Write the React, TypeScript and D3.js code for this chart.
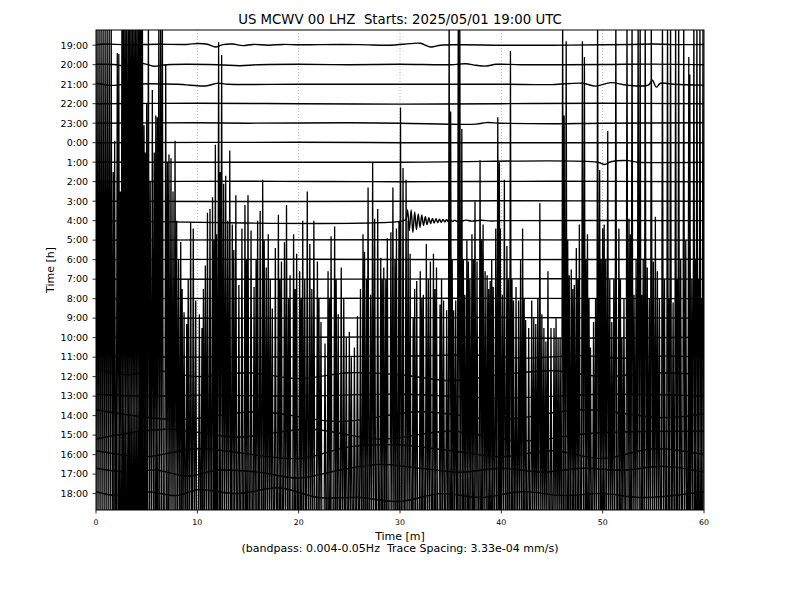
import React from "react";
import * as d3 from "d3";

const title = "US MCWV 00 LHZ  Starts: 2025/05/01 19:00 UTC";
const xLabel = "Time [m]";
const xSubLabel = "(bandpass: 0.004-0.05Hz  Trace Spacing: 3.33e-04 mm/s)";
const yLabel = "Time [h]";

const hourLabels = [
  "19:00", "20:00", "21:00", "22:00", "23:00", "0:00", "1:00", "2:00",
  "3:00", "4:00", "5:00", "6:00", "7:00", "8:00", "9:00", "10:00",
  "11:00", "12:00", "13:00", "14:00", "15:00", "16:00", "17:00", "18:00",
];
const minuteTicks = [0, 10, 20, 30, 40, 50, 60];
const gridMinutes = [10, 20, 30, 40, 50];

// Per-hour trace keyframes: [minute, offset in trace-spacing units, + = up]
const tr19: [number, number][] = [[0,0.03],[1,0.06],[3,0.02],[6,0.05],[9,0.04],[10,0.09],[11,0.05],[11.8,-0.09],[12.5,0.03],[13.5,0.06],[14.5,-0.02],[15.5,0.04],[17,0],[18.5,0.04],[20,0.02],[22,0.03],[26,0.03],[29,0],[31,0.08],[32,0.1],[33,-0.09],[34,0],[36,0.02],[40,0],[45,0],[50,0.02],[53,0.04],[55,0.06],[57,0.03],[60,0.04]];
const tr20: [number, number][] = [[0,0.02],[2,0],[2.8,-0.07],[4,0.1],[5,0.02],[5.7,-0.08],[7,0],[12,0],[14.2,-0.05],[16,0],[20,0.02],[25,0],[30,0.02],[35,0],[36.5,0.05],[37.5,-0.03],[38.5,-0.07],[39.5,0.02],[42,0],[50,0.01],[55,0.03],[60,0]];
const tr21: [number, number][] = [[0,0.05],[1.5,-0.06],[3,0],[8,0],[10.8,-0.09],[12,0.05],[13,0],[20,0],[30,0],[40,0],[45,-0.02],[48,0.05],[49.3,-0.1],[50.8,0.08],[52.4,-0.05],[54.5,-0.05],[54.9,0.2],[55.3,-0.15],[55.7,0.05],[57,0],[60,-0.05]];
const tr22: [number, number][] = [[0,0],[10,0.02],[20,0],[30,-0.02],[40,0],[50,0.02],[60,0]];
const tr23: [number, number][] = [[0,0],[10,0.02],[15,0],[25,0.02],[30,0],[37.5,-0.05],[38.5,0.03],[40,0],[45,-0.03],[50,0],[60,0.02]];
const tr00: [number, number][] = [[0,0],[20,0.02],[30,0],[40,0],[60,0]];
const tr01: [number, number][] = [[0,0],[30,0],[49.5,0],[50.2,-0.12],[50.8,0.02],[52.5,0.08],[53.5,0],[60,0]];
const tr02: [number, number][] = [[0,0],[15,0.02],[30,0],[45,0.02],[60,0]];
const tr03: [number, number][] = [[0,0],[20,-0.02],[40,0.02],[60,0]];
const tr04: [number, number][] = [[0,0],[30.4,0],[30.6,0.1],[30.75,0.55],[30.92,-0.5],[31.1,0.55],[31.27,-0.6],[31.45,0.45],[31.62,-0.45],[31.8,0.35],[31.97,-0.35],[32.15,0.3],[32.32,-0.25],[32.5,0.2],[32.67,-0.2],[32.85,0.15],[33.02,-0.15],[33.2,0.12],[33.37,-0.12],[33.55,0.1],[33.72,-0.1],[33.9,0.08],[34.07,-0.08],[34.25,0.06],[34.42,-0.06],[34.6,0.05],[34.77,-0.05],[35,0.04],[35.2,-0.04],[35.4,0.03],[35.6,-0.04],[35.8,0.03],[36,-0.03],[36.5,0.03],[37,-0.02],[38,0.02],[39,-0.02],[40,0],[60,0]];
const tr05: [number, number][] = [[0,0],[30,0.02],[60,0]];
const tr06: [number, number][] = [[0,0],[20,0.02],[40,0],[60,0.02]];
const tr07: [number, number][] = [[0,0],[25,0],[45,0.02],[60,0]];
const tr08: [number, number][] = [[0,0],[30,0.02],[60,0]];
const tr09: [number, number][] = [[0,0],[20,0],[40,0.03],[60,0]];
const tr10: [number, number][] = [[0,0.02],[15,0],[30,0.04],[45,-0.03],[60,0.02]];
const tr11: [number, number][] = [[0,0.05],[10,0],[30,0.05],[38,0.1],[42,-0.05],[48,0.08],[52,-0.06],[56,0.05],[60,0]];
const tr12: [number, number][] = [[0,0.4],[3,0.1],[6,0.3],[10,0],[15,0.2],[20,-0.1],[25,0.2],[30,0.1],[35,-0.2],[40,0.1],[45,0.3],[50,0],[55,0.2],[60,0.1]];
const tr13: [number, number][] = [[0,0.1],[5,0],[10,0.05],[20,0],[30,0.1],[40,-0.1],[50,0.1],[60,0]];
const tr14: [number, number][] = [[0,0.3],[8,-0.2],[16,0.2],[24,-0.3],[32,0.2],[40,-0.2],[48,0.3],[56,-0.1],[60,0.1]];
const tr15: [number, number][] = [[0,-0.2],[7,0.3],[14,-0.1],[21,0.3],[28,-0.2],[35,0.2],[42,-0.3],[49,0.1],[60,0.2]];
const tr16: [number, number][] = [[0,0.2],[5,-0.1],[10,0.3],[20,-0.2],[25,0.4],[30,0.5],[35,0.2],[40,-0.1],[45,0.2],[50,-0.2],[55,0.3],[60,0]];
const tr17: [number, number][] = [[0,0.3],[3,0.1],[6,0.2],[9,-0.1],[12,0.2],[16,0.1],[20,-0.2],[24,0.2],[28,0.5],[32,0.3],[36,0.1],[40,0.3],[44,0.1],[48,0.3],[52,0.2],[56,0.4],[60,0.1]];
const tr18: [number, number][] = [[0,0.1],[2,-0.1],[5,0.1],[8,-0.1],[10,0.2],[14,0],[18,0.3],[22,-0.2],[26,-0.2],[30,-0.4],[34,0],[38,-0.2],[42,0.1],[46,-0.1],[50,0],[54,-0.2],[60,0.1]];

const traces = [tr19, tr20, tr21, tr22, tr23, tr00, tr01, tr02, tr03, tr04, tr05, tr06, tr07, tr08, tr09, tr10, tr11, tr12, tr13, tr14, tr15, tr16, tr17, tr18];
const firstLoudRow = 17;

// Large-amplitude swings from the later hours: [minute, highest row reached] (-2 = off the top)
const spikes00: [number, number][] = [[0.1,-2],[0.3,-2],[0.5,-2],[0.7,-2],[0.9,-2],[1.1,-2],[1.3,-2],[1.5,-2],[1.7,6.5],[1.84,4.9],[2.1,0.4],[2.25,0.45],[2.4,7.5],[2.56,-2],[2.7,-2],[2.85,-2],[3.0,-2],[3.16,-2],[3.3,-2],[3.45,-2],[3.6,-2],[3.75,-2],[3.9,-2],[4.05,-2],[4.2,-2],[4.34,-2],[4.46,-2],[4.58,-2],[4.74,4.1],[4.87,5.5],[5.0,3.0],[5.17,-2],[5.35,7.0],[5.56,2.3],[5.75,5.5],[5.9,3.6],[6.05,3.7],[6.2,-2],[6.38,-2],[6.55,-2],[6.88,1.0],[7.05,6.0],[7.2,5.6],[7.4,5.8],[7.6,7.5],[7.8,4.9],[7.96,9.0],[8.15,11],[8.36,10.1],[8.5,12.5],[8.69,13.7],[8.95,14.3],[9.1,12],[9.34,9.1],[9.6,9.4],[9.84,13.1]];
const spikes10: [number, number][] = [[10.2,13.8],[10.46,14.5],[10.6,12.5],[10.79,11.3],[11.0,8.6],[11.25,8.4],[11.5,7.8],[11.65,10],[11.78,5.1],[11.9,9.7],[12.1,-0.15],[12.25,6.5],[12.4,0.5],[12.6,7.1],[12.8,6.7],[13.0,9],[13.2,5.4],[13.45,9.2],[13.6,10.5],[13.8,7.7],[14.1,12.3],[14.4,9.4],[14.7,8.2],[14.85,11],[15.0,7.7],[15.3,9.5],[15.6,12.4],[15.8,11],[15.95,9.0],[16.2,8.5],[16.45,6.9],[16.6,10],[16.8,11.4],[17.0,9.7],[17.2,12],[17.4,13.5],[17.7,10.4],[18.0,8.7],[18.15,12],[18.3,11.1],[18.6,10.1],[18.8,8.2],[19.0,13],[19.15,11.8],[19.5,9.7],[19.65,12.5],[19.8,10.7]];
const spikes20: [number, number][] = [[20.1,11.6],[20.25,13],[20.4,9.0],[20.6,12],[20.85,7.5],[21.1,10.2],[21.3,12.5],[21.5,9.0],[21.85,11.1],[22.0,13],[22.2,14.2],[22.6,15.3],[22.9,11.6],[23.05,13],[23.2,9.8],[23.55,9.3],[23.7,12],[23.9,13.8],[24.2,11.4],[24.45,13],[24.7,15.0],[25.0,14.7],[25.2,16],[25.5,15.5],[25.8,13.9],[26.1,12.5],[26.35,9.7],[26.5,10.6],[26.7,12],[26.85,7.3],[27.1,12.8],[27.3,6.0],[27.5,8.9],[27.8,8.4],[28.1,10.9],[28.25,12],[28.4,11.4],[28.6,12],[28.75,9.9],[29.1,9.6],[29.3,7.3],[29.5,11],[29.65,9.4],[29.9,9.0]];
const spikes30: [number, number][] = [[30.05,3.2],[30.3,6.3],[30.6,6.9],[30.8,9],[31.0,10.7],[31.3,14.0],[31.45,12.5],[31.65,12.1],[32.0,11.6],[32.15,13],[32.3,12.8],[32.6,10.2],[32.8,12],[33.0,11.1],[33.3,10.7],[33.45,12.5],[33.6,11.4],[33.95,13.3],[34.1,12],[34.3,13.1],[34.6,13.6],[34.85,-2],[35.0,3.4],[35.15,11],[35.3,13.6],[35.5,13.1],[35.75,-2],[35.9,-2],[36.1,4.3],[36.25,11],[36.4,12.8],[36.6,10],[36.75,11.1],[36.9,12],[37.1,9.7],[37.25,11],[37.4,8.0],[37.6,11.1],[37.9,5.9],[38.05,10],[38.2,9.2],[38.4,11.6],[38.6,11.8],[38.75,12.5],[38.9,12.1],[39.05,11],[39.2,12.4],[39.45,9.4],[39.65,3.7],[39.8,6],[39.9,9.4]];
const spikes40: [number, number][] = [[40.1,12.8],[40.3,6.9],[40.55,10.3],[40.7,12],[40.9,0.3],[41.05,12],[41.2,13.1],[41.45,12.4],[41.7,13.1],[41.9,11],[42.1,9.4],[42.25,13],[42.4,14.1],[42.7,14.5],[43.0,13.1],[43.2,14],[43.4,14.3],[43.6,13],[43.8,8.1],[44.0,13.8],[44.2,14.5],[44.4,15.2],[44.6,11.6],[44.9,14.5],[45.2,14.5],[45.4,14],[45.6,15],[45.8,15],[46.05,-2],[46.2,3.6],[46.4,-0.2],[46.55,10],[46.7,11.8],[46.9,11.5],[47.05,12.5],[47.2,12.3],[47.4,10.4],[47.55,12],[47.7,9.2],[48.0,-0.2],[48.2,0.6],[48.35,11],[48.5,9.7],[48.65,13],[48.8,15.5],[49.1,14.2],[49.3,13],[49.5,-2],[49.7,6.4],[49.85,11]];
const spikes50: [number, number][] = [[50.0,9.4],[50.15,9.2],[50.3,11],[50.5,4.4],[50.7,12],[50.9,14.2],[51.1,12],[51.3,-2],[51.6,9.4],[51.75,12],[51.9,15],[52.1,13],[52.4,-2],[52.6,8.9],[52.75,9.7],[52.9,-2],[53.1,12.8],[53.3,11],[53.5,-2],[53.7,-2],[53.85,12.8],[54.0,11],[54.2,-2],[54.4,11.4],[54.6,13],[54.8,-2],[55.0,11.1],[55.2,8.8],[55.4,11.6],[55.6,13],[55.9,-2],[56.1,12],[56.4,-2],[56.55,13],[56.7,-2],[56.95,13.2],[57.2,-2],[57.35,12],[57.5,-2],[57.7,11],[58.0,-2],[58.2,10],[58.5,0.6],[58.6,1.5],[58.8,12],[59.0,-2],[59.15,11],[59.3,-2],[59.45,12],[59.6,-2],[59.75,13],[59.9,-2]];

export default function App() {
  const left = 96, right = 704, top = 30, bottom = 510;
  const x = d3.scaleLinear().domain([0, 60]).range([left, right]);
  const y = d3.scaleLinear().domain([-0.78, 23.84]).range([top, bottom]);

  const spikes = [...spikes00, ...spikes10, ...spikes20, ...spikes30, ...spikes40, ...spikes50];
  const halfW = 0.1;
  const base = 25.5;
  const wedge = d3
    .line<[number, number]>()
    .x((d) => x(d[0]))
    .y((d) => y(d[1]));
  const spikePath = spikes
    .map(([t, pk]) => wedge([[t - halfW, base], [t, pk], [t + halfW, base]]))
    .join("");

  const tracePath = (row: number, pts: [number, number][]) =>
    d3
      .line<[number, number]>()
      .x((d) => x(d[0]))
      .y((d) => y(row - d[1]))
      .curve(d3.curveCatmullRom.alpha(0.5))(pts) as string;

  const font = "DejaVu Sans, sans-serif";
  const pre = { whiteSpace: "pre" as const };

  return (
    <svg
      width={800}
      height={600}
      style={{ position: "absolute", left: 0, top: 0, background: "#fff" }}
      fontFamily={font}
    >
      <rect x={0} y={0} width={800} height={600} fill="#fff" />
      <defs>
        <clipPath id="plotclip">
          <rect x={left} y={top} width={right - left} height={bottom - top} />
        </clipPath>
      </defs>
      {gridMinutes.map((m) => (
        <line
          key={"g" + m}
          x1={x(m)}
          x2={x(m)}
          y1={top}
          y2={bottom}
          stroke="#a0a0a0"
          strokeWidth={0.8}
          strokeDasharray="1,2"
        />
      ))}
      <g clipPath="url(#plotclip)">
        {traces.map((pts, i) =>
          i >= firstLoudRow ? (
            <path key={"l" + i} d={tracePath(i, pts)} fill="none" stroke="#000" strokeWidth={1.4} />
          ) : null
        )}
        <path d={spikePath} fill="none" stroke="#000" strokeWidth={1.3} />
        {traces.map((pts, i) =>
          i < firstLoudRow ? (
            <path key={"t" + i} d={tracePath(i, pts)} fill="none" stroke="#000" strokeWidth={1.4} />
          ) : null
        )}
      </g>
      <rect
        x={left}
        y={top}
        width={right - left}
        height={bottom - top}
        fill="none"
        stroke="#000"
        strokeWidth={1}
      />
      {hourLabels.map((lab, i) => (
        <g key={"y" + i}>
          <line x1={left - 3.5} x2={left} y1={y(i)} y2={y(i)} stroke="#000" strokeWidth={0.8} />
          <text x={left - 8} y={y(i)} dy="0.35em" textAnchor="end" fontSize={9.5} fill="#000">
            {lab}
          </text>
        </g>
      ))}
      {minuteTicks.map((m) => (
        <g key={"x" + m}>
          <line x1={x(m)} x2={x(m)} y1={bottom} y2={bottom + 3.5} stroke="#000" strokeWidth={0.8} />
          <text x={x(m)} y={bottom + 14.5} textAnchor="middle" fontSize={7.8} fill="#000">
            {m}
          </text>
        </g>
      ))}
      <text x={400} y={24} textAnchor="middle" fontSize={13.3} fill="#000" style={pre} xmlSpace="preserve">
        {title}
      </text>
      <text x={400} y={540} textAnchor="middle" fontSize={11} fill="#000">
        {xLabel}
      </text>
      <text x={400} y={552} textAnchor="middle" fontSize={11} fill="#000" style={pre} xmlSpace="preserve">
        {xSubLabel}
      </text>
      <text
        transform={`translate(54,${(top + bottom) / 2}) rotate(-90)`}
        textAnchor="middle"
        fontSize={11}
        fill="#000"
      >
        {yLabel}
      </text>
    </svg>
  );
}
